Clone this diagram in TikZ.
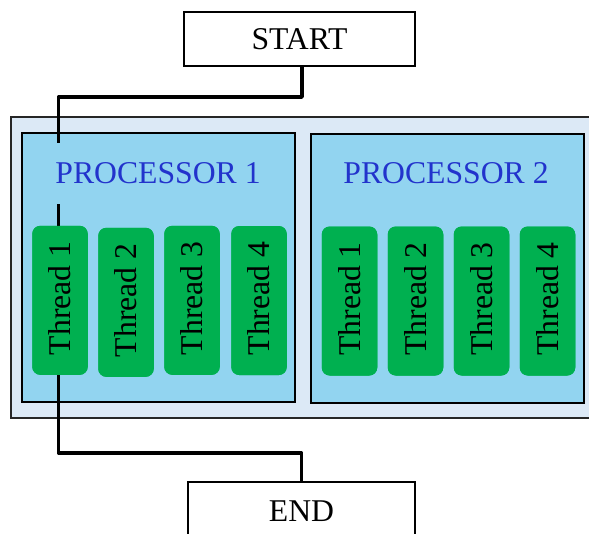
\documentclass[tikz,border=0pt]{standalone}
\usepackage{fontspec}
\setmainfont{Liberation Serif}
\begin{document}
\begin{tikzpicture}[x=1pt,y=-1pt,
  every node/.style={inner sep=0pt, outer sep=0pt},
  big/.style={font=\fontsize{31.7}{38}\selectfont},
  terminal/.style={draw=black, line width=1.3pt, fill=white, big},
  cluster/.style={draw=black!85, line width=2pt, fill=clusterfill},
  proc/.style={draw=black, line width=2pt, fill=procfill, minimum width=273pt, minimum height=269pt},
  proclabel/.style={fill=procfill, text=proctext, big, minimum height=61pt, inner xsep=3pt},
  thread/.style={fill=threadgreen, rounded corners=8pt, minimum width=55.5pt, minimum height=149pt},
  threadtext/.style={big, rotate=90},
  wire/.style={line width=3.5pt, line join=round}]
\definecolor{clusterfill}{HTML}{DCE9F6}
\definecolor{procfill}{HTML}{92D4F0}
\definecolor{threadgreen}{HTML}{00B050}
\definecolor{proctext}{HTML}{2233CC}

\useasboundingbox (0,0) rectangle (589,533);

% outer enclosure and the two processors
\node[cluster, minimum width=594pt, minimum height=301pt] (system) at (308,267.5) {};
\node[proc] (p1) at (158.5,267.5) {};
\node[proc] (p2) at (447.5,268) {};

% start and end terminals
\node[terminal, minimum width=231pt, minimum height=54pt] (start) at (299.5,39) {START};
\node[terminal, minimum width=227pt, minimum height=64pt] (end) at (301.5,514) {};
\node[big] (endtext) at (301.5,511) {END};

% threads of processor 1
\node[thread] (t11) at (60,300.3) {};
\node[thread] (t12) at (126,302.3) {};
\node[thread] (t13) at (192,300.3) {};
\node[thread] (t14) at (259,300.5) {};
% threads of processor 2
\node[thread] (t21) at (349.5,301) {};
\node[thread] (t22) at (415.5,301) {};
\node[thread] (t23) at (481.5,301) {};
\node[thread] (t24) at (547.5,301) {};

% control flow: start -> thread 1 -> end
\coordinate (upper) at (58.5,97);
\coordinate (lower) at (58.5,453);
\draw[wire] ([xshift=2.5pt]start.south) |- (upper) -- (upper |- t11.north);
\draw[wire] (upper |- t11.south) -- (lower) -| (end.north);

% processor titles (their fill interrupts the wire)
\node[proclabel] (l1) at (158,173) {PROCESSOR 1};
\node[proclabel] (l2) at (446,173) {PROCESSOR 2};

% thread labels drawn above the wire
\foreach \t/\n in {t11/1,t12/2,t13/3,t14/4,t21/1,t22/2,t23/3,t24/4}{
  \node[thread] at (\t) {};
  \node[threadtext] at ([yshift=2pt]\t.center) {Thread \n};
}
\end{tikzpicture}
\end{document}
